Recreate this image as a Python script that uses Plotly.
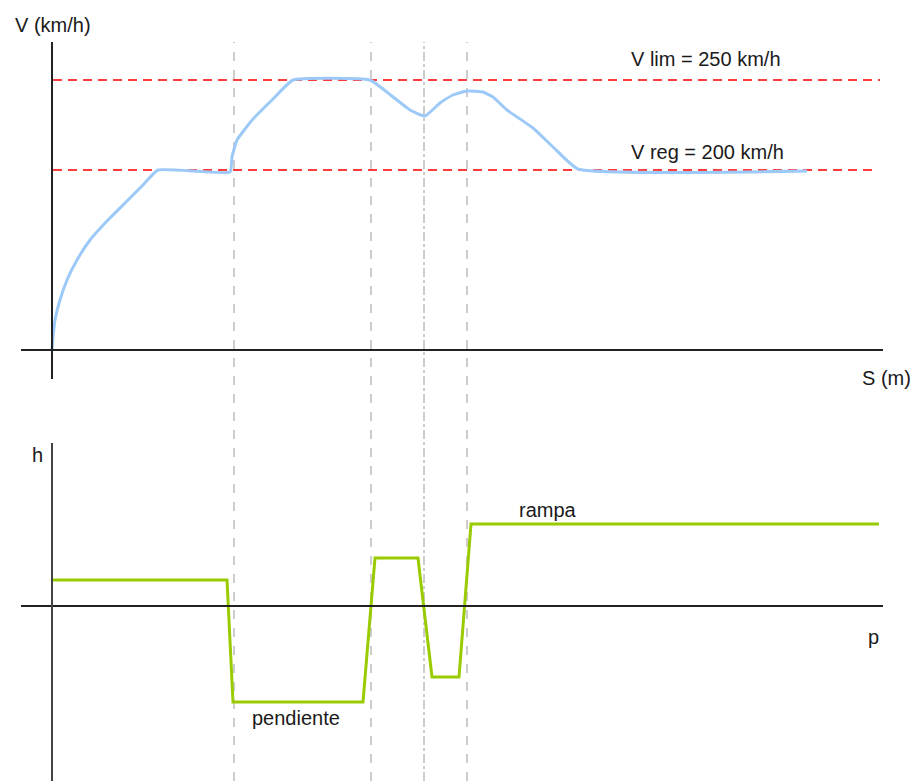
import plotly.graph_objects as go

# ---- speed profile (top panel), schematic units ----
s_dist = [0, 1, 3, 8, 15, 25, 38, 55, 75, 91, 106, 178, 180, 185, 201, 221, 241, 318,
          341, 358, 373, 388, 401, 415, 431, 441, 455, 481, 501, 526, 755]
v_speed = [0, 13, 30, 50, 70, 90, 110, 129, 149, 165, 180, 178, 193, 210, 231, 251, 270, 270,
           253, 240, 234, 247, 255, 259, 258, 253, 240, 222, 203, 181, 179]

# reference speed levels (schematic heights) and their labels
v_lim_level = 270
v_reg_level = 180
v_lim_label = "V lim = 250 km/h"
v_reg_label = "V reg = 200 km/h"

# ---- grade profile (bottom panel) ----
p_dist = [0, 175, 181, 311, 323, 366, 380, 407, 419, 827]
h_grade = [26, 26, -96, -96, 48, 48, -71, -71, 82, 82]

# section boundaries (vertical guide lines)
boundaries = [182, 319, 372, 415]
boundary_dash = ["dash", "dash", "dashdot", "dash"]

FONT = "Liberation Sans, Arial, sans-serif"
TXT = "#1a1a1a"

fig = go.Figure()

fig.add_trace(go.Scatter(x=s_dist, y=v_speed, mode="lines",
                         line=dict(color="#9cc9f7", width=3, shape="spline", smoothing=0.4),
                         xaxis="x", yaxis="y", showlegend=False, hoverinfo="skip"))

fig.add_trace(go.Scatter(x=p_dist, y=h_grade, mode="lines",
                         line=dict(color="#99cc00", width=3),
                         xaxis="x2", yaxis="y2", showlegend=False, hoverinfo="skip"))

shapes = []
# vertical dashed guides spanning both panels
for b, d in zip(boundaries, boundary_dash):
    shapes.append(dict(type="line", xref="x", yref="paper", x0=b, x1=b, y0=0, y1=1 - 42 / 781,
                       line=dict(color="#9a9a9a", width=1, dash=d), layer="below"))
# speed limit lines
shapes.append(dict(type="line", xref="x", yref="y", x0=1, x1=828, y0=v_lim_level, y1=v_lim_level,
                   line=dict(color="#ff3b3b", width=2, dash="9px,6px"), layer="below"))
shapes.append(dict(type="line", xref="x", yref="y", x0=1, x1=821, y0=v_reg_level, y1=v_reg_level,
                   line=dict(color="#ff3b3b", width=2, dash="9px,6px"), layer="below"))
# axes of top panel
shapes.append(dict(type="line", xref="x", yref="y", x0=-31, x1=831, y0=0, y1=0,
                   line=dict(color="#222222", width=2)))
shapes.append(dict(type="line", xref="x", yref="y", x0=0, x1=0, y0=-29, y1=308,
                   line=dict(color="#222222", width=2)))
# axes of bottom panel
shapes.append(dict(type="line", xref="x2", yref="y2", x0=-31, x1=831, y0=0, y1=0,
                   line=dict(color="#222222", width=2)))
shapes.append(dict(type="line", xref="x2", yref="y2", x0=0, x1=0, y0=-175, y1=163,
                   line=dict(color="#444444", width=2)))

annotations = [
    dict(text="V (km/h)", x=-39, y=325, xref="x", yref="y", xanchor="left", yanchor="middle"),
    dict(text=v_lim_label, x=577, y=291, xref="x", yref="y", xanchor="left", yanchor="middle"),
    dict(text=v_reg_label, x=577, y=198, xref="x", yref="y", xanchor="left", yanchor="middle"),
    dict(text="S (m)", x=808, y=-28, xref="x", yref="y", xanchor="left", yanchor="middle"),
    dict(text="h", x=-15, y=151, xref="x2", yref="y2", xanchor="center", yanchor="middle"),
    dict(text="p", x=821, y=-31, xref="x2", yref="y2", xanchor="center", yanchor="middle"),
    dict(text="pendiente", x=244, y=-112, xref="x2", yref="y2", xanchor="center", yanchor="middle"),
    dict(text="rampa", x=496, y=96, xref="x2", yref="y2", xanchor="center", yanchor="middle"),
]
for a in annotations:
    a.update(showarrow=False, font=dict(family=FONT, size=20, color=TXT))

split = 1 - 390 / 781
hidden = dict(showgrid=False, zeroline=False, showticklabels=False, ticks="", showline=False,
              fixedrange=True)

fig.update_layout(
    width=912, height=781, autosize=False,
    margin=dict(l=0, r=0, t=0, b=0),
    paper_bgcolor="white", plot_bgcolor="white",
    xaxis=dict(range=[-52, 860], domain=[0, 1], anchor="y", **hidden),
    yaxis=dict(range=[-40, 350], domain=[split, 1], anchor="x", **hidden),
    xaxis2=dict(range=[-52, 860], domain=[0, 1], anchor="y2", **hidden),
    yaxis2=dict(range=[-175, 216], domain=[0, split], anchor="x2", **hidden),
    shapes=shapes, annotations=annotations,
    showlegend=False,
)

fig.write_html("out.html", config={"displayModeBar": False},
               post_script="document.body.style.margin='0';document.body.style.overflow='hidden';")
